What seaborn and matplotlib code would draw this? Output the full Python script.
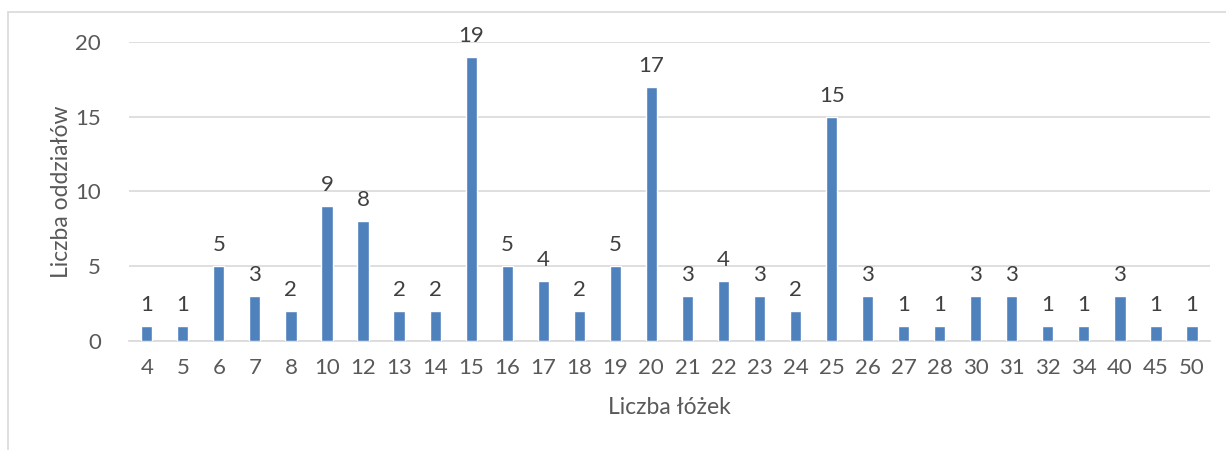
import matplotlib
matplotlib.use("Agg")
import matplotlib.pyplot as plt
import seaborn as sns
import pandas as pd
from matplotlib.patches import Rectangle

categories = ["4", "5", "6", "7", "8", "10", "12", "13", "14", "15", "16", "17", "18", "19", "20",
              "21", "22", "23", "24", "25", "26", "27", "28", "30", "31", "32", "34", "40", "45", "50"]
values = [1, 1, 5, 3, 2, 9, 8, 2, 2, 19, 5, 4, 2, 5, 17,
          3, 4, 3, 2, 15, 3, 1, 1, 3, 3, 1, 1, 3, 1, 1]

df = pd.DataFrame({"cat": categories, "val": values})

sns.set_theme(style="white")
plt.rcParams['font.family'] = ['Lato', 'DejaVu Sans']

fig = plt.figure(figsize=(12.26, 4.5), dpi=100)
ax = fig.add_axes([0.105, 0.242, 0.882, 0.665])

sns.barplot(data=df, x="cat", y="val", color="#4F81BD", saturation=1, width=0.31, ax=ax, zorder=3)

ax.set_ylim(0, 20)
ax.set_yticks([0, 5, 10, 15, 20])
ax.yaxis.grid(True, color="#d9d9d9", linewidth=1.2, zorder=0)
ax.set_axisbelow(True)
for s in ["top", "right", "left"]:
    ax.spines[s].set_visible(False)
ax.spines["bottom"].set_color("#d9d9d9")
ax.spines["bottom"].set_linewidth(1.2)
ax.tick_params(axis="both", length=0, labelsize=16, colors="#595959")
ax.tick_params(axis="x", pad=12)
ax.tick_params(axis="y", pad=20)

for c in ax.containers:
    ax.bar_label(c, labels=[str(v) for v in values], padding=8, fontsize=16, color="#404040")

ax.set_xlabel("Liczba łóżek", fontsize=16.5, color="#595959", labelpad=14)
ax.set_ylabel("Liczba oddziałów", fontsize=16.5, color="#595959", labelpad=2)

fig.patches.append(Rectangle((8 / 1226, -0.1), 1.2, 1 - 12 / 450 + 0.1, transform=fig.transFigure,
                             fill=False, edgecolor="#d9d9d9", linewidth=1.2, zorder=0))

fig.savefig("out.png", dpi=100)
